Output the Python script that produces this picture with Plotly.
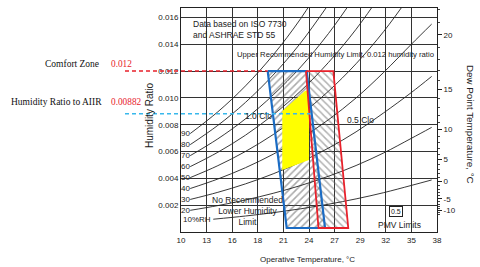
import plotly.graph_objects as go

# ---------------- data ----------------
x_tickvals = [10, 12.78, 15.56, 18.33, 21.11, 23.89, 26.67, 29.44, 32.22, 35, 37.78]
x_ticktext = ["10", "13", "16", "18", "21", "24", "27", "29", "32", "35", "38"]
y_tickvals = [0.002, 0.004, 0.006, 0.008, 0.010, 0.012, 0.014, 0.016]
y_ticktext = ["0.002", "0.004", "0.006", "0.008", "0.010", "0.012", "0.014", "0.016"]
dew_labels = ["20", "15", "10", "5", "0", "-5", "-10"]
dew_w = [0.0147, 0.01065, 0.00763, 0.00541, 0.00378, 0.00248, 0.00160]
dew_minor_w = [0.001339, 0.001463, 0.001600, 0.001748, 0.001908, 0.002081, 0.002269, 0.002474,
               0.002695, 0.002933, 0.003191, 0.003470, 0.003775, 0.004060, 0.004363, 0.004686,
               0.005031, 0.005398, 0.005788, 0.006204, 0.006645, 0.007115, 0.007613, 0.008143,
               0.008706, 0.009303, 0.009937, 0.010608, 0.011322, 0.012078, 0.012880, 0.013730,
               0.014697, 0.015656, 0.016600]

rh_temps = [11, 14, 17, 20, 23, 26, 29, 32, 35, 37.2]
rh_names = ["90", "80", "70", "60", "50", "40", "30", "20"]
rh_90 = [0.007339, 0.008961, 0.010893, 0.013196, 0.015920, 0.019151]
rh_80 = [0.006515, 0.007952, 0.009664, 0.011702, 0.014111, 0.016965]
rh_70 = [0.005693, 0.006947, 0.008439, 0.010216, 0.012312, 0.014794, 0.017705]
rh_60 = [0.004874, 0.005945, 0.007220, 0.008736, 0.010523, 0.012638, 0.015115, 0.018032]
rh_50 = [0.004056, 0.004947, 0.006005, 0.007263, 0.008745, 0.010496, 0.012545, 0.014954, 0.017763]
rh_40 = [0.003241, 0.003951, 0.004795, 0.005797, 0.006976, 0.008369, 0.009995, 0.011906, 0.014000, 0.015500]
rh_30 = [0.002427, 0.002959, 0.003589, 0.004337, 0.005218, 0.006255, 0.007467, 0.008887, 0.010400, 0.011600]
rh_20 = [0.001616, 0.001969, 0.002388, 0.002885, 0.003469, 0.004156, 0.004958, 0.005897, 0.006986, 0.007800]
rh10_temps = [13.5, 17, 20, 23, 26, 29, 32, 35, 37.2]
rh_10 = [0.000952, 0.001192, 0.001439, 0.001730, 0.002071, 0.002469, 0.002934, 0.003473, 0.003880]

# comfort zones (operative temperature, humidity ratio)
blue_t = [19.41, 23.64, 25.63, 21.47]
blue_w = [0.012, 0.012, 0.0003, 0.0003]
red_t = [23.56, 26.53, 28.15, 24.92]
red_w = [0.012, 0.012, 0.0003, 0.0003]
yellow_t = [20.99, 23.45, 23.89, 23.89, 20.99]
yellow_w = [0.00902, 0.01051, 0.01059, 0.00537, 0.00462]

comfort_w = 0.012
aiir_w = 0.00882
aiir_end_t = 24.1

x_range = [10, 37.78]
y_range = [0, 0.0167]

SANS = "Liberation Sans, Arial, sans-serif"
SERIF = "Liberation Serif, Times New Roman, serif"
GRID = "#333333"
BLUE = "#1b6cc4"
RED = "#e8212b"
CYAN = "#38b8ec"

fig = go.Figure()

# hatched zones
fig.add_trace(go.Scatter(
    x=blue_t + [blue_t[0]], y=blue_w + [blue_w[0]], mode="lines", fill="toself",
    fillcolor="rgba(0,0,0,0)", line=dict(width=0),
    fillpattern=dict(shape="/", fgcolor="#555555", bgcolor="rgba(0,0,0,0)", size=5, solidity=0.32),
    hoverinfo="skip", showlegend=False))
fig.add_trace(go.Scatter(
    x=red_t + [red_t[0]], y=red_w + [red_w[0]], mode="lines", fill="toself",
    fillcolor="rgba(0,0,0,0)", line=dict(width=0),
    fillpattern=dict(shape="\\", fgcolor="#666666", bgcolor="rgba(0,0,0,0)", size=5, solidity=0.3),
    hoverinfo="skip", showlegend=False))

# RH curves
rh_series = [rh_90, rh_80, rh_70, rh_60, rh_50, rh_40, rh_30, rh_20]
annotations = []
for name, ws in zip(rh_names, rh_series):
    ts = rh_temps[:len(ws)]
    fig.add_trace(go.Scatter(x=ts, y=ws, mode="lines", line=dict(color="#222", width=0.9, shape="spline"),
                             hoverinfo="skip", showlegend=False))
    annotations.append(dict(x=ts[0] + 0.2, y=ws[0], xref="x", yref="y", text=name, showarrow=False,
                            xanchor="right", yanchor="middle", font=dict(family=SANS, size=8, color="#222")))
fig.add_trace(go.Scatter(x=rh10_temps, y=rh_10, mode="lines", line=dict(color="#222", width=0.9, shape="spline"),
                         hoverinfo="skip", showlegend=False))
annotations.append(dict(x=rh10_temps[0], y=rh_10[0], xref="x", yref="y", text="10%RH", showarrow=False,
                        xanchor="right", yanchor="middle", font=dict(family=SANS, size=8, color="#222")))

# yellow area
fig.add_trace(go.Scatter(x=yellow_t + [yellow_t[0]], y=yellow_w + [yellow_w[0]], mode="lines", fill="toself",
                         fillcolor="#ffff00", line=dict(width=0), hoverinfo="skip", showlegend=False))

# outlines
fig.add_trace(go.Scatter(x=blue_t + [blue_t[0]], y=blue_w + [blue_w[0]], mode="lines",
                         line=dict(color=BLUE, width=2.2), hoverinfo="skip", showlegend=False))
fig.add_trace(go.Scatter(x=red_t + [red_t[0]], y=red_w + [red_w[0]], mode="lines",
                         line=dict(color=RED, width=1.8), hoverinfo="skip", showlegend=False))

# dummy trace for the dew point axis
fig.add_trace(go.Scatter(x=[x_range[0]], y=[dew_w[0]], yaxis="y2", mode="markers",
                         marker=dict(opacity=0), hoverinfo="skip", showlegend=False))

def px_to_paper_x(px):
    return (px - 181) / 256.0

def t_to_paper(t):
    return (t - x_range[0]) / (x_range[1] - x_range[0])

shapes = [
    dict(type="line", xref="paper", yref="y", x0=px_to_paper_x(125), x1=t_to_paper(blue_t[0]),
         y0=comfort_w, y1=comfort_w, line=dict(color=RED, width=1.6, dash="4px,3px"), layer="above"),
    dict(type="line", xref="paper", yref="y", x0=px_to_paper_x(125), x1=t_to_paper(aiir_end_t),
         y0=aiir_w, y1=aiir_w, line=dict(color=CYAN, width=1.6, dash="4px,3px"), layer="above"),
]

def pa(text, x, y, size=8.5, family=SANS, color="#222", xanchor="center", align="center", **kw):
    d = dict(text=text, x=x, y=y, xref="paper", yref="paper", showarrow=False, xanchor=xanchor,
             yanchor="middle", align=align, font=dict(family=family, size=size, color=color))
    d.update(kw)
    return d

annotations += [
    pa("Comfort Zone", px_to_paper_x(101), (232 - 64) / 224, size=9.5, family=SERIF, color="#111", xanchor="right"),
    pa(str(comfort_w), px_to_paper_x(109), (232 - 64) / 224, size=9.3, family=SERIF, color=RED, xanchor="left"),
    pa("Humidity Ratio to AIIR", px_to_paper_x(104), (232 - 102) / 224, size=9.5, family=SERIF, color="#111", xanchor="right"),
    pa(str(aiir_w), px_to_paper_x(109), (232 - 102) / 224, size=9.3, family=SERIF, color=RED, xanchor="left"),
    pa("Data based on ISO 7730<br>and ASHRAE STD 55", px_to_paper_x(191), (232 - 29.5) / 224, xanchor="left", align="left"),
    pa("Upper Recommended Humidity Limit, 0.012 humidity ratio", px_to_paper_x(235), (232 - 54) / 224, size=7.7, xanchor="left"),
    pa("1.0 Clo", px_to_paper_x(258), (232 - 116) / 224),
    pa("0.5 Clo", px_to_paper_x(360), (232 - 120) / 224),
    pa("No Recommended<br>Lower Humidity<br>Limit", px_to_paper_x(247), (232 - 211) / 224),
    pa("0.5", px_to_paper_x(396), (232 - 211.5) / 224, size=7, bordercolor="#222", borderwidth=1, borderpad=1),
    pa("PMV Limits", px_to_paper_x(399), (232 - 225) / 224),
    pa("Humidity Ratio", px_to_paper_x(150), (232 - 116) / 224, size=10, textangle=-90),
    pa("Operative Temperature, °C", px_to_paper_x(307), (232 - 259) / 224, size=8),
    pa("Dew Point Temperature, °C", px_to_paper_x(470), (232 - 124) / 224, size=9.8, textangle=90),
]

fig.update_layout(
    width=480, height=267,
    margin=dict(l=181, r=43, t=8, b=35),
    paper_bgcolor="white", plot_bgcolor="white",
    showlegend=False,
    font=dict(family=SANS, size=9, color="#222"),
    xaxis=dict(range=x_range, tickvals=x_tickvals, ticktext=x_ticktext, showgrid=True, gridcolor=GRID,
               gridwidth=0.8, showline=True, linecolor="#222", linewidth=1, mirror=True, ticks="",
               zeroline=False, tickfont=dict(size=8), automargin=False),
    yaxis=dict(range=y_range, tickvals=y_tickvals, ticktext=y_ticktext, showgrid=True, gridcolor=GRID,
               gridwidth=0.8, showline=True, linecolor="#222", linewidth=1, mirror=True, ticks="",
               zeroline=False, tickfont=dict(size=8), automargin=False),
    yaxis2=dict(range=y_range, overlaying="y", side="right", tickvals=dew_w, ticktext=dew_labels,
                showgrid=False, zeroline=False, ticks="outside", ticklen=4, tickcolor="#222",
                showline=True, linecolor="#222", tickfont=dict(size=8), automargin=False,
                minor=dict(tickmode="array", tickvals=dew_minor_w, ticks="outside", ticklen=2,
                           tickcolor="#444", showgrid=False)),
    shapes=shapes,
    annotations=annotations,
)

fig.write_html("out.html", config={"displayModeBar": False},
               post_script="document.body.style.margin='0';document.body.style.overflow='hidden';")
